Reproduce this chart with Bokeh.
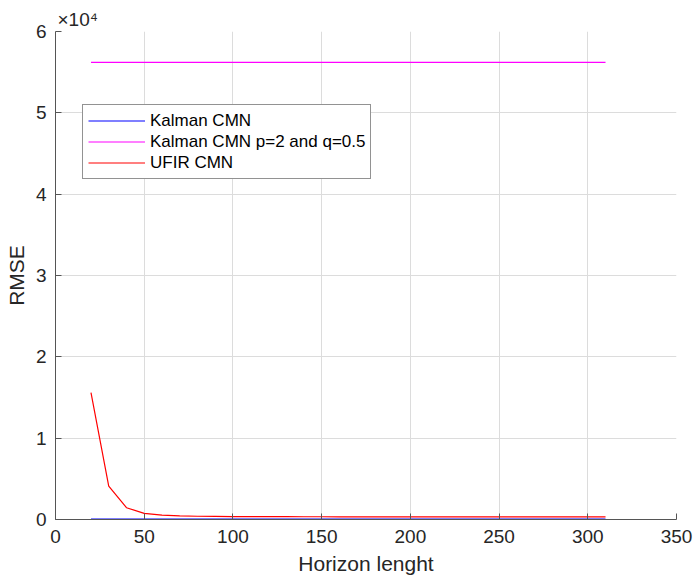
from bokeh.plotting import figure
from bokeh.models import FixedTicker, Range1d, Legend, LegendItem, Title
from bokeh.embed import file_html
from bokeh.resources import INLINE

horizon = [20, 30, 40, 50, 60, 70, 80, 90, 100, 110, 120, 130, 140, 150, 160,
           170, 180, 190, 200, 210, 220, 230, 240, 250, 260, 270, 280, 290, 300, 310]
kalman_cmn = [45, 45, 45, 45, 45, 45, 45, 45, 45, 45, 45, 45, 45, 45, 45,
              45, 45, 45, 45, 45, 45, 45, 45, 45, 45, 45, 45, 45, 45, 45]
kalman_cmn_pq = [56200, 56200, 56200, 56200, 56200, 56200, 56200, 56200, 56200, 56200,
                 56200, 56200, 56200, 56200, 56200, 56200, 56200, 56200, 56200, 56200,
                 56200, 56200, 56200, 56200, 56200, 56200, 56200, 56200, 56200, 56200]
ufir_cmn = [15600, 4100, 1450, 760, 530, 440, 400, 380, 365, 355, 350, 345, 340, 337, 335,
            333, 331, 330, 329, 328, 327, 326, 325, 325, 324, 324, 323, 323, 322, 322]

x_ticks = [0, 50, 100, 150, 200, 250, 300, 350]
y_ticks = [0, 10000, 20000, 30000, 40000, 50000, 60000]
y_tick_labels = ["0", "1", "2", "3", "4", "5", "6"]
legend_labels = ["Kalman CMN", "Kalman CMN p=2 and q=0.5", "UFIR CMN"]
exponent_text = "×10⁴"

FONT = "Liberation Sans"
TXT = "#262626"

p = figure(width=694, height=582, output_backend="svg", toolbar_location=None,
           x_range=Range1d(0, 350), y_range=Range1d(0, 60000),
           min_border_left=55, min_border_right=18, min_border_top=31, min_border_bottom=63)
p.outline_line_color = None
p.background_fill_color = "white"

r1 = p.line(horizon, kalman_cmn, line_color="#0000ff", line_width=1.2)
r2 = p.line(horizon, kalman_cmn_pq, line_color="#ff00ff", line_width=1.2)
r3 = p.line(horizon, ufir_cmn, line_color="#ff0000", line_width=1.2)

for ax in (p.xaxis[0], p.yaxis[0]):
    ax.axis_line_color = "#555555"
    ax.major_tick_line_color = "#555555"
    ax.major_tick_in = 6
    ax.major_tick_out = 0
    ax.minor_tick_line_color = None
    ax.major_label_text_font = FONT
    ax.major_label_text_font_size = "19px"
    ax.major_label_text_color = TXT
    ax.axis_label_text_font = FONT
    ax.axis_label_text_font_size = "21px"
    ax.axis_label_text_font_style = "normal"
    ax.axis_label_text_color = TXT

p.xaxis.ticker = FixedTicker(ticks=x_ticks)
p.yaxis.ticker = FixedTicker(ticks=y_ticks)
p.yaxis.major_label_overrides = {t: l for t, l in zip(y_ticks, y_tick_labels)}
p.xaxis.axis_label = "Horizon lenght"
p.yaxis.axis_label = "RMSE"
p.xaxis.major_label_standoff = 10
p.yaxis.major_label_standoff = 9
p.xaxis.axis_label_standoff = 6
p.yaxis.axis_label_standoff = 5

p.xgrid.ticker = FixedTicker(ticks=x_ticks)
p.ygrid.ticker = FixedTicker(ticks=y_ticks)
p.grid.grid_line_color = "#dcdcdc"
p.grid.grid_line_width = 1

title = Title(text=exponent_text, align="left", offset=2, standoff=3,
              text_font=FONT, text_font_size="19px", text_color=TXT,
              text_font_style="normal")
p.add_layout(title, "above")

legend = Legend(items=[LegendItem(label=legend_labels[0], renderers=[r1]),
                       LegendItem(label=legend_labels[1], renderers=[r2]),
                       LegendItem(label=legend_labels[2], renderers=[r3])],
                location=(27, 340))
legend.label_text_font = FONT
legend.label_text_font_size = "17px"
legend.label_text_color = "#000000"
legend.glyph_width = 57
legend.glyph_height = 21
legend.label_height = 21
legend.label_standoff = 5
legend.spacing = 0
legend.padding = 5
legend.margin = 0
legend.border_line_color = "#262626"
legend.border_line_width = 1
legend.background_fill_color = "white"
legend.background_fill_alpha = 1
p.add_layout(legend)

open("out.html", "w").write(file_html(p, INLINE))
